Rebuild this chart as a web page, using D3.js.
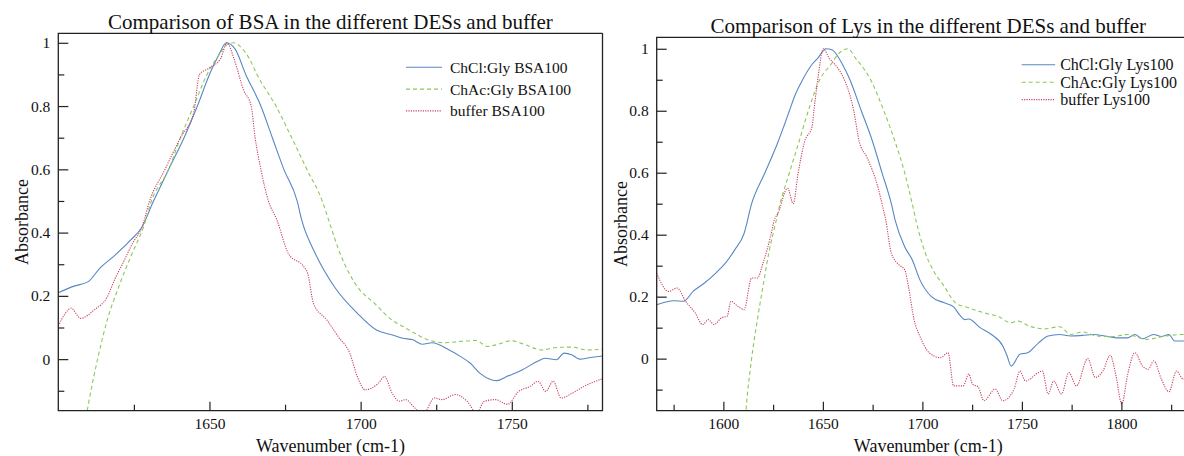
<!DOCTYPE html>
<html>
<head>
<meta charset="utf-8">
<script src="https://cdn.jsdelivr.net/npm/d3@7"></script>
<style>
  body { margin: 0; background: #fff; }
  svg, svg text { font-family: "Liberation Serif", "Times New Roman", serif; }
</style>
</head>
<body>
<div id="chart"></div>
<script>
// [wavenumber, absorbance]
const bsaChCl = [[1600,0.21],[1605,0.23],[1609.9,0.245],[1613.7,0.287],[1618.8,0.329],[1623.9,0.376],[1627.7,0.418],[1631.5,0.5],[1634,0.55],[1636.5,0.6],[1641.6,0.7],[1646,0.8],[1650,0.9],[1653,0.96],[1655.6,1.0],[1658.5,0.98],[1662,0.9],[1667,0.8],[1670.8,0.7],[1674.6,0.6],[1679,0.5],[1680.5,0.44],[1685,0.334],[1691.3,0.229],[1698.9,0.145],[1705.2,0.092],[1710.3,0.077],[1714,0.066],[1717.3,0.061],[1720.4,0.047],[1723.6,0.052],[1729.3,0.029],[1733.1,0.008],[1736.3,-0.013],[1739.4,-0.044],[1743.2,-0.065],[1745,-0.068],[1748.3,-0.055],[1753.4,-0.034],[1758.5,-0.007],[1761,0.003],[1764.8,-0.002],[1767.3,0.019],[1769.8,0.014],[1772.4,0],[1776,0.005],[1780,0.01]];
const bsaChAc = [[1608,-0.25],[1610,-0.14],[1613,0],[1616.2,0.124],[1620,0.229],[1624.4,0.334],[1628.2,0.418],[1630.8,0.5],[1636.5,0.6],[1640.4,0.7],[1644.8,0.8],[1649.2,0.9],[1653,0.96],[1656,0.995],[1658,1.0],[1660.5,0.985],[1663.2,0.95],[1665.7,0.9],[1672,0.8],[1677.2,0.7],[1682.2,0.6],[1687.3,0.5],[1689.4,0.44],[1693.2,0.334],[1698.9,0.229],[1704.6,0.176],[1710.3,0.124],[1714,0.103],[1717.9,0.082],[1721.7,0.063],[1728,0.052],[1733.1,0.056],[1738.2,0.059],[1742,0.04],[1745.8,0.048],[1749.6,0.058],[1754.6,0.045],[1759.7,0.029],[1764.8,0.037],[1769.8,0.038],[1774.9,0.029],[1780,0.031]];
const bsaBuffer = [[1600,0.105],[1602,0.14],[1604.2,0.161],[1607.4,0.129],[1611.8,0.155],[1616.2,0.197],[1618.8,0.255],[1621.3,0.302],[1624.5,0.365],[1627.7,0.418],[1630.2,0.5],[1635.3,0.6],[1637.8,0.65],[1640.4,0.7],[1644.8,0.78],[1646.7,0.9],[1649.9,0.92],[1653.7,0.95],[1655.8,1.0],[1658.1,0.95],[1661.3,0.85],[1663.8,0.8],[1665.1,0.7],[1667,0.6],[1669.5,0.5],[1672.3,0.44],[1676.1,0.334],[1681.2,0.292],[1682.5,0.271],[1684.4,0.176],[1688.8,0.124],[1692.6,0.071],[1696.4,0.019],[1698.9,-0.055],[1701.5,-0.097],[1705.9,-0.076],[1707.9,-0.055],[1710.4,-0.107],[1712.9,-0.133],[1714.8,-0.128],[1718,-0.155],[1720.6,-0.175],[1724.4,-0.123],[1726.9,-0.128],[1731.4,-0.112],[1735.2,-0.133],[1738.4,-0.17],[1740.9,-0.133],[1744.7,-0.128],[1748.5,-0.143],[1752.3,-0.102],[1756.1,-0.086],[1758.7,-0.07],[1761.2,-0.102],[1763.7,-0.07],[1766.3,-0.123],[1770.1,-0.107],[1773.9,-0.086],[1780,-0.062]];

const lysChCl = [[1566.5,0.174],[1575.3,0.187],[1580,0.185],[1584.8,0.217],[1590.5,0.244],[1596.2,0.276],[1601,0.308],[1605.7,0.351],[1610.4,0.404],[1614.2,0.5],[1620.9,0.6],[1627.5,0.7],[1630.4,0.75],[1633.2,0.8],[1636,0.85],[1639.8,0.9],[1644.6,0.95],[1647.5,0.97],[1651.5,1.0],[1654.5,0.997],[1659.8,0.95],[1663.6,0.9],[1669.3,0.8],[1675,0.7],[1679.7,0.6],[1684.4,0.5],[1686.3,0.447],[1691.1,0.361],[1694.9,0.319],[1698.7,0.255],[1704.4,0.201],[1711,0.18],[1715.7,0.167],[1718.6,0.142],[1721.4,0.126],[1723.3,0.128],[1729,0.1],[1734.7,0.078],[1740.4,0.041],[1742.5,0.01],[1744.6,-0.024],[1749,0.014],[1752.8,0.019],[1758.4,0.051],[1763.2,0.073],[1768.9,0.078],[1774.6,0.073],[1780.3,0.075],[1786,0.078],[1791.7,0.073],[1797.3,0.067],[1803,0.067],[1806.8,0.078],[1810.6,0.064],[1816.3,0.078],[1820.1,0.071],[1823.9,0.078],[1826.8,0.057],[1831.1,0.057],[1840,0.06]];
const lysChAc = [[1610,-0.3],[1611.4,-0.165],[1614.2,0],[1617.1,0.126],[1619.9,0.233],[1622.8,0.34],[1626.6,0.447],[1628.5,0.5],[1633.2,0.6],[1638,0.7],[1642.7,0.8],[1648.4,0.9],[1654.1,0.95],[1658,0.985],[1662.6,1.0],[1666.4,0.97],[1671.2,0.93],[1674,0.9],[1680.6,0.8],[1686.3,0.7],[1691.1,0.6],[1694.9,0.5],[1697,0.44],[1701.5,0.34],[1705.3,0.287],[1711,0.233],[1716.7,0.18],[1723.3,0.164],[1730.9,0.148],[1738.5,0.135],[1744.2,0.116],[1748,0.121],[1753.7,0.105],[1761.3,0.096],[1768.9,0.103],[1774.6,0.078],[1780.3,0.086],[1787.9,0.073],[1795.5,0.071],[1803,0.078],[1812.5,0.062],[1822.3,0.073],[1831.1,0.078],[1840,0.075]];
const lysBuffer = [[1566.5,0.276],[1572.5,0.217],[1576.8,0.228],[1581,0.185],[1585.8,0.148],[1589.6,0.11],[1592.4,0.126],[1595.3,0.11],[1599.1,0.132],[1601.9,0.137],[1603.8,0.185],[1607.6,0.167],[1610.4,0.158],[1614.2,0.26],[1617.1,0.26],[1619.9,0.308],[1623.7,0.394],[1625.6,0.447],[1627.5,0.47],[1632.3,0.55],[1635.1,0.5],[1637.6,0.6],[1640.8,0.7],[1644.6,0.75],[1645.5,0.8],[1647.4,0.9],[1650.3,1.0],[1653.1,0.97],[1656,0.95],[1660.8,0.9],[1663.6,0.85],[1665.5,0.8],[1668.3,0.7],[1672.1,0.65],[1677.8,0.55],[1679.7,0.5],[1681.6,0.447],[1684.4,0.34],[1688.2,0.303],[1691.1,0.287],[1693,0.233],[1695.8,0.126],[1698.7,0.073],[1703.4,0.019],[1709.1,0.003],[1712.9,0.019],[1715.7,-0.088],[1720.5,-0.088],[1723.3,-0.05],[1725.2,-0.082],[1728.1,-0.092],[1730.9,-0.136],[1736.6,-0.098],[1740.4,-0.136],[1746.1,-0.098],[1749,-0.04],[1751.8,-0.072],[1758.4,-0.045],[1760.3,-0.04],[1763.2,-0.114],[1766,-0.072],[1769.9,-0.114],[1773.6,-0.045],[1777.4,-0.088],[1783.1,0],[1786.9,-0.061],[1790.7,-0.04],[1794.4,0.011],[1797.3,-0.056],[1800.2,-0.147],[1803,-0.056],[1806.8,0.019],[1810.6,-0.024],[1813.4,-0.034],[1816.3,-0.007],[1820.1,-0.066],[1823.9,-0.107],[1827.7,-0.04],[1831.1,-0.066],[1840,-0.06]];

const bsaNames = ["ChCl:Gly BSA100", "ChAc:Gly BSA100", "buffer BSA100"];
const lysNames = ["ChCl:Gly Lys100", "ChAc:Gly Lys100", "buffer Lys100"];
const yMajor = [0, 0.2, 0.4, 0.6, 0.8, 1];
const yMinor = [-0.1, 0.1, 0.3, 0.5, 0.7, 0.9];
const bsaXMajor = [1650, 1700, 1750];
const bsaXMinor = [1625, 1675, 1725, 1775];
const lysXMajor = [1600, 1650, 1700, 1750, 1800];
const lysXMinor = [1575, 1625, 1675, 1725, 1775, 1825];

const colors = ["#5787c4", "#8cc859", "#c9435f"];
const dashes = [null, "4,3", "1.2,1.2"];
const serif = '"Liberation Serif", "Times New Roman", serif';

const width = 1184, height = 456;
const svg = d3.select("#chart").append("svg")
    .attr("width", width)
    .attr("height", height);

const panels = [
    {
        id: "bsa", title: "Comparison of BSA in the different DESs and buffer",
        left: 58.3, right: 602.5, top: 33.3, bottom: 410.7,
        xDomain: [1600, 1780], yDomain: [-0.163, 1.03],
        xMajor: bsaXMajor, xMinor: bsaXMinor,
        series: [bsaChCl, bsaChAc, bsaBuffer], names: bsaNames,
        legend: {x: 406, y: 67.3, step: 21.8, len: 36, gap: 8, size: 15.5},
        ylabelX: 28, frameRight: true
    },
    {
        id: "lys", title: "Comparison of Lys in the different DESs and buffer",
        left: 656.7, right: 1200, top: 37.3, bottom: 410.7,
        xDomain: [1566.5, 1839.5], yDomain: [-0.168, 1.037],
        xMajor: lysXMajor, xMinor: lysXMinor,
        series: [lysChCl, lysChAc, lysBuffer], names: lysNames,
        legend: {x: 1021.7, y: 64.8, step: 17.4, len: 33.5, gap: 5, size: 16},
        ylabelX: 627, frameRight: false
    }
];

panels.forEach(p => {
    const x = d3.scaleLinear().domain(p.xDomain).range([p.left, p.right]);
    const y = d3.scaleLinear().domain(p.yDomain).range([p.bottom, p.top]);
    const g = svg.append("g");

    g.append("clipPath")
        .attr("id", "clip-" + p.id)
        .append("rect")
        .attr("x", p.left)
        .attr("y", p.top)
        .attr("width", p.right - p.left)
        .attr("height", p.bottom - p.top);

    // Lines
    const line = d3.line()
        .x(d => x(d[0]))
        .y(d => y(d[1]))
        .curve(d3.curveMonotoneX);

    const lines = g.append("g").attr("clip-path", `url(#clip-${p.id})`);
    p.series.forEach((s, i) => {
        lines.append("path")
            .datum(s)
            .attr("fill", "none")
            .attr("stroke", colors[i])
            .attr("stroke-width", 1.1)
            .attr("stroke-dasharray", dashes[i])
            .attr("d", line);
    });

    // Axes, ticks pointing inward
    g.append("g")
        .attr("transform", `translate(0,${p.bottom})`)
        .call(d3.axisBottom(x).tickValues(p.xMajor).tickSize(-9).tickSizeOuter(0).tickPadding(7).tickFormat(d3.format("d")));
    g.append("g")
        .attr("transform", `translate(0,${p.bottom})`)
        .call(d3.axisBottom(x).tickValues(p.xMinor).tickSize(-6).tickSizeOuter(0).tickFormat(""));
    g.append("g")
        .attr("transform", `translate(${p.left},0)`)
        .call(d3.axisLeft(y).tickValues(yMajor).tickSize(-10).tickSizeOuter(0).tickPadding(8).tickFormat(d3.format("~g")));
    g.append("g")
        .attr("transform", `translate(${p.left},0)`)
        .call(d3.axisLeft(y).tickValues(yMinor).tickSize(-6).tickSizeOuter(0).tickFormat(""));

    g.selectAll(".domain").remove();
    g.selectAll("g").attr("font-family", null).attr("font-size", null);
    g.selectAll(".tick line").attr("stroke", "#222").attr("stroke-width", 1.2);
    g.selectAll(".tick text")
        .style("font-family", serif)
        .style("font-size", "15.5px")
        .attr("fill", "#111");

    // Frame
    const frame = [[p.right, p.top], [p.left, p.top], [p.left, p.bottom], [p.right, p.bottom]];
    if (p.frameRight) frame.push([p.right, p.top]);
    g.append("path")
        .attr("d", d3.line()(frame))
        .attr("fill", "none")
        .attr("stroke", "#222")
        .attr("stroke-width", 1.3);

    // Titles and labels
    const cx = (p.left + p.right) / 2;
    g.append("text")
        .attr("x", cx)
        .attr("y", p.top - 4)
        .attr("text-anchor", "middle")
        .style("font-size", "21px")
        .attr("fill", "#111")
        .text(p.title);

    g.append("text")
        .attr("x", cx)
        .attr("y", 452)
        .attr("text-anchor", "middle")
        .style("font-size", "18px")
        .attr("fill", "#111")
        .text("Wavenumber (cm-1)");

    g.append("text")
        .attr("transform", `translate(${p.ylabelX},${(p.top + p.bottom) / 2}) rotate(-90)`)
        .attr("text-anchor", "middle")
        .style("font-size", "18px")
        .attr("fill", "#111")
        .text("Absorbance");

    // Legend
    const lg = p.legend;
    p.names.forEach((name, i) => {
        const ly = lg.y + i * lg.step;
        g.append("line")
            .attr("x1", lg.x)
            .attr("x2", lg.x + lg.len)
            .attr("y1", ly)
            .attr("y2", ly)
            .attr("stroke", colors[i])
            .attr("stroke-width", 1.1)
            .attr("stroke-dasharray", dashes[i]);
        g.append("text")
            .attr("x", lg.x + lg.len + lg.gap)
            .attr("y", ly)
            .attr("dy", "0.35em")
            .style("font-size", lg.size + "px")
            .attr("fill", "#111")
            .text(name);
    });
});
</script>
</body>
</html>
